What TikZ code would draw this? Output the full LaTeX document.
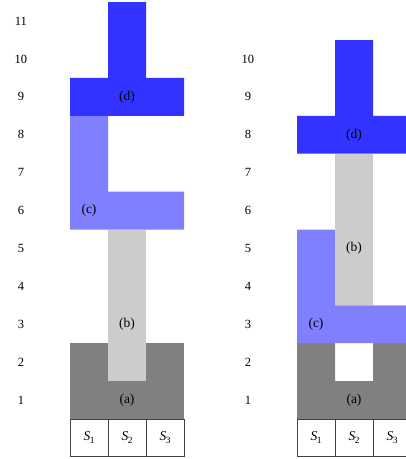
\documentclass[tikz,border=0pt]{standalone}
\usepackage{fontspec}
\setmainfont{Liberation Serif}
\definecolor{cA}{HTML}{808080}
\definecolor{cB}{HTML}{CCCCCC}
\definecolor{cC}{HTML}{8080FF}
\definecolor{cD}{HTML}{3333FF}
\definecolor{cLine}{HTML}{404040}
\newcommand{\Sname}[1]{\textit{S}\kern-0.5pt\raisebox{-0.22em}{\fontsize{9.5}{10}\selectfont #1}}
\tikzset{
  lbl/.style={font=\fontsize{13.5}{15}\selectfont, inner sep=0pt},
  slbl/.style={font=\fontsize{13.5}{15}\selectfont, inner sep=0pt},
  rowlbl/.style={font=\fontsize{12.5}{14}\selectfont, inner sep=0pt},
  sbox/.style={draw=cLine, line width=0.9pt, fill=white},
}
\begin{document}
\begin{tikzpicture}[x=1pt,y=-1pt]
\useasboundingbox (0,0) rectangle (406,459);
\clip (0,0) rectangle (406,459);
% ---------------- left panel ----------------
\begin{scope}[shift={(70,419)}, x=38pt, y=37.9pt]
  \fill[cA] (0,0) rectangle (3,2);
  \fill[cB] (1,1) rectangle (2,5);
  \fill[cC] (0,5) rectangle (3,6) (0,6) rectangle (1,8);
  \fill[cD] (0,8) rectangle (3,9) (1,9) rectangle (2,11);
  \node[lbl] (La) at (1.5,0.5) {(a)};
  \node[lbl] (Lb) at (1.5,2.5) {(b)};
  \node[lbl] (Lc) at (0.5,5.5) {(c)};
  \node[lbl] (Ld) at (1.5,8.5) {(d)};
  \foreach \k in {1,...,11} {
    \node[rowlbl] (Lr\k) at (-1.29,\k-0.5) {\k};
  }
  \foreach \i in {1,2,3} {
    \draw[sbox] (\i-1,-1) rectangle (\i,0);
    \node[slbl] (LS\i) at (\i-0.5,-0.5) {\Sname{\i}};
  }
\end{scope}
% ---------------- right panel ----------------
\begin{scope}[shift={(297,419)}, x=38pt, y=37.9pt]
  \fill[cA] (0,0) -- (3,0) -- (3,2) -- (2,2) -- (2,1) -- (1,1) -- (1,2) -- (0,2) -- cycle;
  \fill[cC] (0,2) rectangle (3,3) (0,3) rectangle (1,5);
  \fill[cB] (1,3) rectangle (2,7);
  \fill[cD] (0,7) rectangle (3,8) (1,8) rectangle (2,10);
  \node[lbl] (Ra) at (1.5,0.5) {(a)};
  \node[lbl] (Rc) at (0.5,2.5) {(c)};
  \node[lbl] (Rb) at (1.5,4.5) {(b)};
  \node[lbl] (Rd) at (1.5,7.5) {(d)};
  \foreach \k in {1,...,10} {
    \node[rowlbl] (Rr\k) at (-1.29,\k-0.5) {\k};
  }
  \foreach \i in {1,2,3} {
    \draw[sbox] (\i-1,-1) rectangle (\i,0);
    \node[slbl] (RS\i) at (\i-0.5,-0.5) {\Sname{\i}};
  }
\end{scope}
\end{tikzpicture}
\end{document}
